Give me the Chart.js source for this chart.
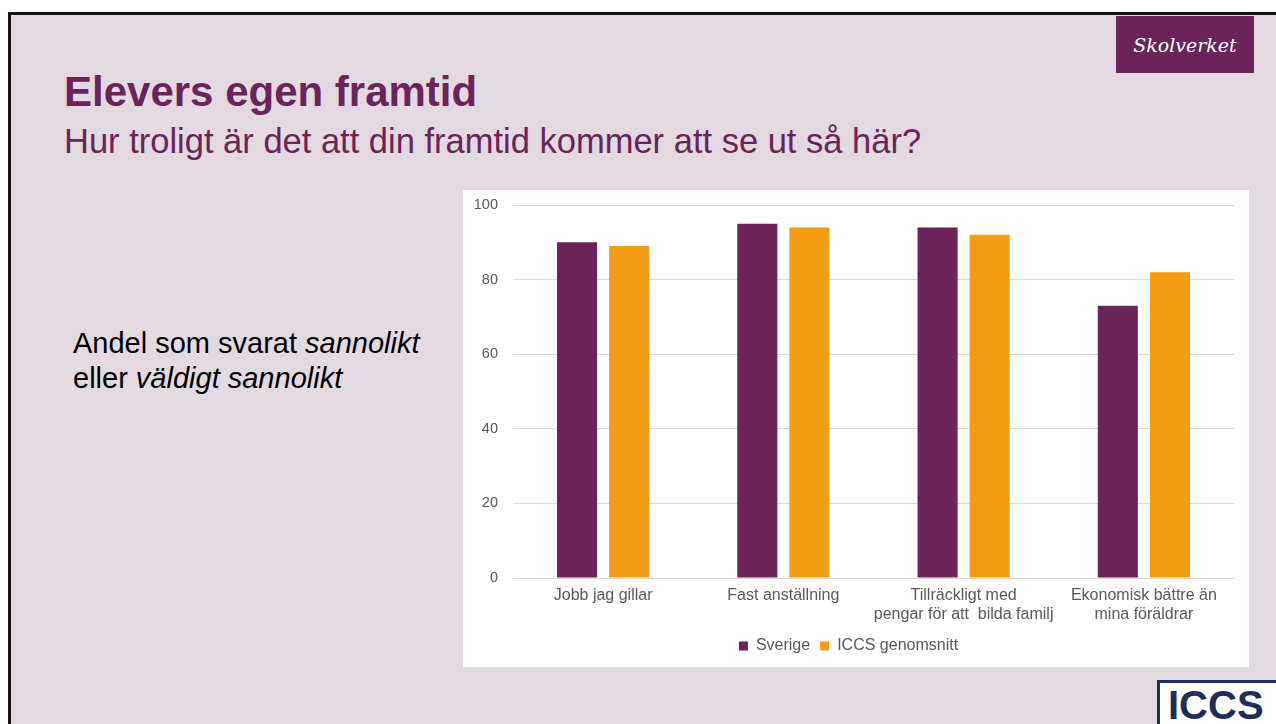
<!DOCTYPE html>
<html>
<head>
<meta charset="utf-8">
<script src="https://cdn.jsdelivr.net/npm/chart.js@4.4.1/dist/chart.umd.min.js"></script>
<style>
  html, body { margin: 0; padding: 0; background: #fff; width: 1276px; height: 724px; overflow: hidden; }
  .slide { position: absolute; left: 8px; top: 12px; width: 1280px; height: 730px; background: #e3d9e1;
           border-left: 3px solid #111; border-top: 3px solid #111; box-sizing: border-box;
           font-family: "Liberation Sans", Arial, sans-serif; }
  .title { position: absolute; left: 53px; top: 53px; font-size: 42px; font-weight: bold; color: #6b2457; }
  .sub { position: absolute; left: 53px; top: 107px; font-size: 34.5px; color: #6b2457; }
  .side { position: absolute; left: 62px; top: 311px; font-size: 29px; color: #000; line-height: 35px; }
  .logo { position: absolute; left: 1105px; top: 1px; width: 138px; height: 57px; background: #6b2457;
          color: #fff; font-family: "DejaVu Serif", serif; font-style: italic; font-size: 19px;
          display: flex; align-items: center; justify-content: center; }
  .iccs { position: absolute; left: 1146px; top: 665px; width: 130px; height: 50px; background: #fff;
          border: 3px solid #1d2d5c; box-sizing: border-box; color: #1d2d5c; font-weight: bold;
          font-size: 40px; padding-left: 8px; line-height: 44px; font-family: "Liberation Sans", Arial, sans-serif; }
  .box { position: absolute; left: 452px; top: 175px; width: 786px; height: 477px; background: #fff; }
</style>
</head>
<body>
<div class="slide">
  <div class="logo">Skolverket</div>
  <div class="title">Elevers egen framtid</div>
  <div class="sub">Hur troligt är det att din framtid kommer att se ut så här?</div>
  <div class="side">Andel som svarat <i>sannolikt</i><br>eller <i>väldigt sannolikt</i></div>
  <div class="box"><canvas id="c" width="786" height="477"></canvas></div>
  <div class="iccs">ICCS</div>
</div>
<script>
// categories and values
const categories = [
  'Jobb jag gillar',
  'Fast anställning',
  ['Tillräckligt med', 'pengar för att  bilda familj'],
  ['Ekonomisk bättre än', 'mina föräldrar']
];
const sverige = [90, 95, 94, 73];
const iccs = [89, 94, 92, 82];
const yTicks = [0, 20, 40, 60, 80, 100];

const ctx = document.getElementById('c').getContext('2d');
new Chart(ctx, {
  type: 'bar',
  data: {
    labels: categories,
    datasets: [
      { label: 'Sverige', data: sverige, backgroundColor: '#6b2457' },
      { label: 'ICCS genomsnitt', data: iccs, backgroundColor: '#f49c13' }
    ]
  },
  options: {
    responsive: false,
    animation: false,
    categoryPercentage: 0.578,
    barPercentage: 0.77,
    layout: { padding: { left: 0, right: 15, top: 15, bottom: 3 } },
    plugins: {
      tooltip: { enabled: false },
      legend: {
        position: 'bottom',
        labels: { boxWidth: 9, boxHeight: 9, color: '#595959', font: { family: 'Liberation Sans', size: 16 }, padding: 10 }
      }
    },
    scales: {
      x: {
        grid: { display: false },
        border: { color: '#d9d9d9' },
        ticks: { color: '#595959', font: { family: 'Liberation Sans', size: 16, lineHeight: 1.13 }, maxRotation: 0, autoSkip: false, padding: 1 },
        afterFit: s => { s.height = 50; s.paddingLeft = 0; s.paddingRight = 0; }
      },
      y: {
        min: 0, max: 100,
        afterBuildTicks: axis => { axis.ticks = yTicks.map(v => ({ value: v })); },
        grid: { color: '#d9d9d9', drawTicks: false },
        border: { display: false },
        ticks: { color: '#595959', font: { family: 'Liberation Sans', size: 14.5 }, padding: 15 },
        afterFit: s => { s.width = 50; s.paddingTop = 0; s.paddingBottom = 0; }
      }
    }
  }
});
</script>
</body>
</html>
